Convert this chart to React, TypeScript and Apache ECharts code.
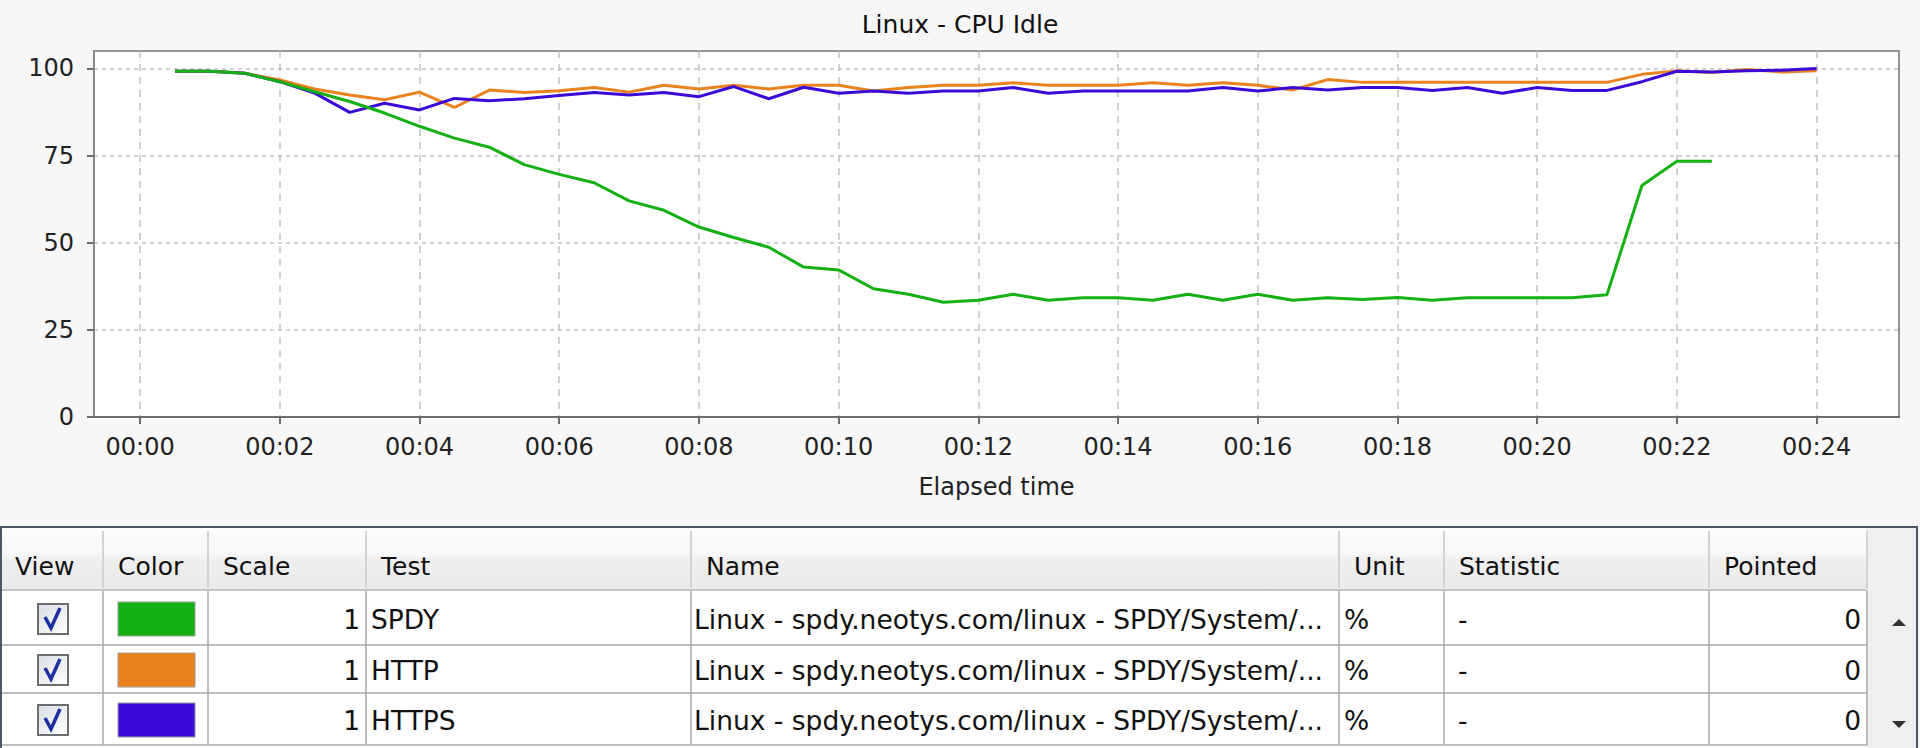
import React, { useEffect, useRef } from 'react';
import * as echarts from 'echarts';

// ---------- data ----------
const chartTitle = 'Linux - CPU Idle';
const xAxisName = 'Elapsed time';

// elapsed time in minutes
const times = [
  0.5, 1, 1.5, 2, 2.5, 3, 3.5, 4, 4.5, 5, 5.5, 6, 6.5, 7, 7.5, 8,
  8.5, 9, 9.5, 10, 10.5, 11, 11.5, 12, 12.5, 13, 13.5, 14, 14.5, 15, 15.5, 16,
  16.5, 17, 17.5, 18, 18.5, 19, 19.5, 20, 20.5, 21, 21.5, 22, 22.5, 23, 23.5, 24,
];

const spdyValues = [
  99.2, 99.2, 98.6, 96.2, 93.3, 90.5, 87.2, 83.4, 80.0, 77.4, 72.4, 69.6, 67.2, 62.0, 59.3, 54.5,
  51.5, 48.7, 43.0, 42.2, 36.8, 35.2, 32.9, 33.5, 35.2, 33.5, 34.2, 34.2, 33.5, 35.2, 33.5, 35.2,
  33.5, 34.2, 33.7, 34.3, 33.5, 34.2, 34.2, 34.2, 34.2, 35.1, 66.4, 73.4, 73.4,
];

const httpValues = [
  99.2, 99.2, 98.6, 96.7, 94.1, 92.4, 91.0, 93.2, 88.8, 93.8, 93.1, 93.6, 94.5, 93.2, 95.2, 94.1,
  95.2, 94.1, 95.2, 95.2, 93.5, 94.5, 95.2, 95.2, 95.9, 95.2, 95.2, 95.2, 95.9, 95.2, 95.9, 95.2,
  93.8, 96.8, 96.0, 96.0, 96.0, 96.0, 96.0, 96.0, 96.0, 96.0, 98.3, 99.3, 98.8, 99.7, 99.0, 99.3,
];

const httpsValues = [
  99.2, 99.2, 98.6, 96.2, 92.9, 87.4, 90.0, 88.1, 91.4, 90.7, 91.3, 92.2, 93.1, 92.4, 93.1, 91.9,
  94.8, 91.3, 94.6, 92.9, 93.5, 92.9, 93.5, 93.5, 94.5, 92.9, 93.5, 93.5, 93.5, 93.5, 94.5, 93.5,
  94.5, 93.8, 94.5, 94.5, 93.7, 94.5, 92.9, 94.5, 93.7, 93.7, 96.2, 99.2, 99.0, 99.3, 99.5, 100.0,
];

const xTickValues = [0, 2, 4, 6, 8, 10, 12, 14, 16, 18, 20, 22, 24];
const xTickLabels = ['00:00', '00:02', '00:04', '00:06', '00:08', '00:10', '00:12', '00:14', '00:16', '00:18', '00:20', '00:22', '00:24'];
const yTickValues = [0, 25, 50, 75, 100];

const seriesNames = ['SPDY', 'HTTP', 'HTTPS'];
const seriesColors = ['#14b014', '#ea821e', '#3c0ad8'];

const tableHeaders = ['View', 'Color', 'Scale', 'Test', 'Name', 'Unit', 'Statistic', 'Pointed'];
const rowScales = ['1', '1', '1'];
const rowNames = [
  'Linux - spdy.neotys.com/linux - SPDY/System/...',
  'Linux - spdy.neotys.com/linux - SPDY/System/...',
  'Linux - spdy.neotys.com/linux - SPDY/System/...',
];
const rowUnits = ['%', '%', '%'];
const rowStatistics = ['-', '-', '-'];
const rowPointed = ['0', '0', '0'];

// ---------- layout ----------
const FONT = '"DejaVu Sans", Verdana, sans-serif';
const colX = [0, 103, 208, 366, 691, 1339, 1444, 1709, 1867, 1917];
const tableTop = 527;
const headerBottom = 590;
const rowTops = [591, 645, 693];
const rowBottoms = [645, 693, 745];

function buildTable(): any[] {
  const els: any[] = [];
  const gridColor = '#a9a9a9';
  els.push({
    type: 'rect',
    shape: { x: 1, y: tableTop, width: 1916, height: 748 - tableTop + 4 },
    style: { fill: '#ffffff', stroke: '#4c5763', lineWidth: 2 },
  });
  els.push({
    type: 'rect',
    shape: { x: 2, y: tableTop + 1, width: colX[8] - 2, height: headerBottom - tableTop - 1 },
    style: {
      fill: new echarts.graphic.LinearGradient(0, 0, 0, 1, [
        { offset: 0, color: '#fdfdfd' },
        { offset: 0.45, color: '#f6f6f6' },
        { offset: 0.5, color: '#efefef' },
        { offset: 1, color: '#eaeaea' },
      ]),
    },
  });
  els.push({
    type: 'rect',
    shape: { x: colX[8], y: tableTop + 1, width: colX[9] - colX[8] - 1, height: 748 - tableTop },
    style: { fill: '#efefef' },
  });
  els.push({
    type: 'line',
    shape: { x1: 2, y1: headerBottom, x2: colX[8], y2: headerBottom },
    style: { stroke: '#c4c4c4', lineWidth: 2 },
  });
  for (let c = 0; c < tableHeaders.length; c++) {
    if (c > 0) {
      els.push({
        type: 'line',
        shape: { x1: colX[c], y1: tableTop + 4, x2: colX[c], y2: headerBottom - 2 },
        style: { stroke: '#d3d3d3', lineWidth: 2 },
      });
    }
    els.push({
      type: 'text',
      style: {
        text: tableHeaders[c],
        x: colX[c] + 15,
        y: 566,
        fill: '#111111',
        fontSize: 25,
        fontFamily: FONT,
        align: 'left',
        verticalAlign: 'middle',
      },
    });
  }
  els.push({
    type: 'line',
    shape: { x1: colX[8], y1: tableTop + 4, x2: colX[8], y2: headerBottom - 2 },
    style: { stroke: '#d3d3d3', lineWidth: 2 },
  });
  for (let r = 0; r < 3; r++) {
    els.push({
      type: 'line',
      shape: { x1: 2, y1: rowBottoms[r], x2: colX[8], y2: rowBottoms[r] },
      style: { stroke: gridColor, lineWidth: 1.5 },
    });
  }
  for (let c = 1; c <= 8; c++) {
    els.push({
      type: 'line',
      shape: { x1: colX[c], y1: headerBottom + 1, x2: colX[c], y2: rowBottoms[2] },
      style: { stroke: gridColor, lineWidth: 1.5 },
    });
  }
  for (let r = 0; r < 3; r++) {
    const cy = (rowTops[r] + rowBottoms[r]) / 2 + 1;
    els.push({
      type: 'rect',
      shape: { x: 38, y: cy - 15, width: 30, height: 30 },
      style: {
        fill: new echarts.graphic.LinearGradient(0, 0, 1, 1, [
          { offset: 0, color: '#d9dde4' },
          { offset: 1, color: '#ffffff' },
        ]),
        stroke: '#6d6d6d',
        lineWidth: 2,
      },
    });
    els.push({
      type: 'polyline',
      shape: { points: [[45, cy - 2], [51, cy + 9], [60, cy - 11]] },
      style: { stroke: '#1e2f9e', lineWidth: 3.5, fill: null },
    });
    els.push({
      type: 'rect',
      shape: { x: 118, y: cy - 17, width: 77, height: 34 },
      style: { fill: seriesColors[r], stroke: '#9a9a9a', lineWidth: 1 },
    });
    const textStyle = { fill: '#111111', fontSize: 26.5, fontFamily: FONT, verticalAlign: 'middle' };
    els.push({ type: 'text', style: { ...textStyle, text: rowScales[r], x: colX[3] - 6, y: cy, align: 'right' } });
    els.push({ type: 'text', style: { ...textStyle, text: seriesNames[r], x: colX[3] + 5, y: cy, align: 'left' } });
    els.push({ type: 'text', style: { ...textStyle, text: rowNames[r], x: colX[4] + 3, y: cy, align: 'left' } });
    els.push({ type: 'text', style: { ...textStyle, text: rowUnits[r], x: colX[5] + 5, y: cy, align: 'left' } });
    els.push({ type: 'text', style: { ...textStyle, text: rowStatistics[r], x: colX[6] + 14, y: cy, align: 'left' } });
    els.push({ type: 'text', style: { ...textStyle, text: rowPointed[r], x: colX[8] - 6, y: cy, align: 'right' } });
  }
  els.push({
    type: 'polygon',
    shape: { points: [[1892, 626], [1906, 626], [1899, 619]] },
    style: { fill: '#333333' },
  });
  els.push({
    type: 'polygon',
    shape: { points: [[1892, 721], [1906, 721], [1899, 728]] },
    style: { fill: '#333333' },
  });
  return els;
}

export default function App() {
  const ref = useRef<HTMLDivElement>(null);

  useEffect(() => {
    if (!ref.current) return;
    const chart = echarts.init(ref.current, null, { renderer: 'svg' });
    const valueSets = [spdyValues, httpValues, httpsValues];
    const order = [1, 2, 0];
    const series = order.map((i) => ({
      name: seriesNames[i],
      type: 'line',
      showSymbol: false,
      symbol: 'none',
      lineStyle: { width: 3, color: seriesColors[i] },
      itemStyle: { color: seriesColors[i] },
      data: valueSets[i].map((v, k) => [times[k], v]),
    }));

    chart.setOption({
      animation: false,
      backgroundColor: '#f7f7f7',
      title: {
        text: chartTitle,
        left: 'center',
        top: 7,
        textStyle: { fontSize: 25, fontWeight: 'normal', color: '#111111', fontFamily: FONT },
      },
      grid: {
        left: 94,
        right: 21,
        top: 51,
        bottom: 331,
        show: true,
        backgroundColor: '#ffffff',
        borderColor: '#959595',
        borderWidth: 2,
      },
      xAxis: {
        type: 'value',
        min: -0.66,
        max: 25.18,
        name: xAxisName,
        nameLocation: 'middle',
        nameGap: 58,
        nameTextStyle: { fontSize: 24, color: '#222222', fontFamily: FONT },
        axisLine: { show: true, onZero: false, lineStyle: { color: '#6c6c6c', width: 2 } },
        axisTick: { show: true, length: 7, customValues: xTickValues, lineStyle: { color: '#6c6c6c', width: 2 } },
        axisLabel: {
          customValues: xTickValues,
          margin: 18,
          fontSize: 24,
          color: '#222222',
          fontFamily: FONT,
          formatter: (v: number) => {
            const idx = xTickValues.indexOf(Math.round(v));
            return idx >= 0 ? xTickLabels[idx] : '';
          },
        },
        splitLine: { show: true, lineStyle: { color: '#c2c2c2', width: 1.5, type: [7, 6] } },
      },
      yAxis: {
        type: 'value',
        min: 0,
        max: 105,
        axisLine: { show: true, onZero: false, lineStyle: { color: '#8a8a8a', width: 2 } },
        axisTick: { show: true, length: 7, customValues: yTickValues, lineStyle: { color: '#6c6c6c', width: 2 } },
        axisLabel: {
          customValues: yTickValues,
          margin: 20,
          fontSize: 24,
          color: '#222222',
          fontFamily: FONT,
        },
        splitLine: { show: true, lineStyle: { color: '#c2c2c2', width: 1.5, type: [4, 4] } },
      },
      series,
      graphic: buildTable(),
    });

    return () => {
      chart.dispose();
    };
  }, []);

  return (
    <div
      ref={ref}
      style={{ position: 'absolute', left: 0, top: 0, width: 1920, height: 748 }}
    />
  );
}
